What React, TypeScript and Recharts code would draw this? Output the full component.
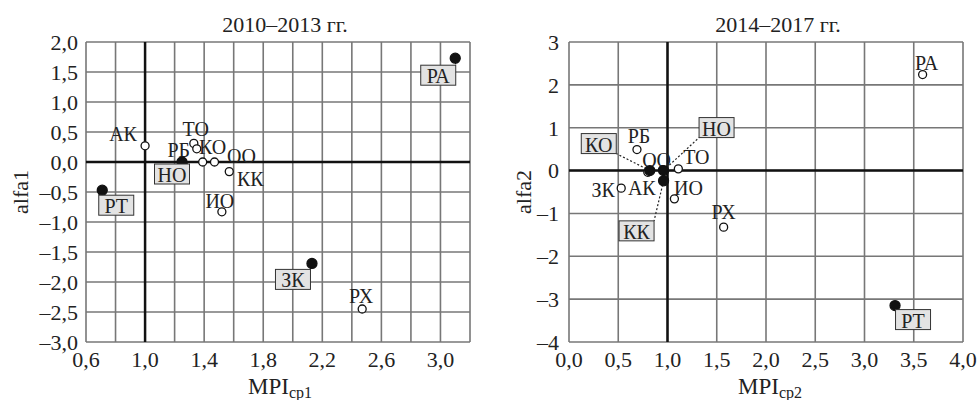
import React from "react";
import { ScatterChart, Scatter, XAxis, YAxis, CartesianGrid, ReferenceLine, Customized } from "recharts";

const SERIF = '"Liberation Serif", "DejaVu Serif", serif';

// 2010–2013
const regions1: string[] = ["АК", "ТО", "РБ", "КО", "ОО", "КК", "ИО", "РХ", "ЗК", "РТ", "РА", "НО"];
const mpi1: number[] = [1.0, 1.33, 1.35, 1.39, 1.47, 1.57, 1.52, 2.47, 2.13, 0.71, 3.1, 1.25];
const alfa1: number[] = [0.27, 0.31, 0.22, 0.0, 0.0, -0.16, -0.83, -2.45, -1.69, -0.47, 1.73, 0.0];
const marked1: boolean[] = [false, false, false, false, false, false, false, false, true, true, true, true];
const xTicks1: number[] = [0.6, 0.8, 1.0, 1.2, 1.4, 1.6, 1.8, 2.0, 2.2, 2.4, 2.6, 2.8, 3.0, 3.2];
const xLabels1: number[] = [0.6, 1.0, 1.4, 1.8, 2.2, 2.6, 3.0];
const yTicks1: number[] = [-3, -2.5, -2, -1.5, -1, -0.5, 0, 0.5, 1, 1.5, 2];

// 2014–2017
const regions2: string[] = ["АК", "ОО", "РБ", "ТО", "ИО", "ЗК", "РХ", "РА", "КО", "НО", "КК", "РТ"];
const mpi2: number[] = [0.8, 0.95, 0.69, 1.11, 1.07, 0.53, 1.57, 3.59, 0.82, 0.96, 0.96, 3.31];
const alfa2: number[] = [-0.04, 0.02, 0.49, 0.04, -0.66, -0.41, -1.32, 2.24, 0.0, 0.0, -0.24, -3.15];
const marked2: boolean[] = [false, false, false, false, false, false, false, false, true, true, true, true];
const xTicks2: number[] = [0, 0.5, 1, 1.5, 2, 2.5, 3, 3.5, 4];
const yTicks2: number[] = [-4, -3, -2, -1, 0, 1, 2, 3];

// label offsets from the point, px
const labelPos1: Record<string, [number, number]> = {
  "АК": [-22, -13], "ТО": [2, -15], "РБ": [-18, 0], "КО": [10, -16], "ОО": [27, -7], "КК": [21, 6],
  "ИО": [-2, -12], "РХ": [-1, -14], "ЗК": [-19, 16], "РТ": [14, 15], "РА": [-17, 17], "НО": [-10, 12],
};
const labelPos2: Record<string, [number, number]> = {
  "АК": [-6, 15], "ОО": [-6, -11], "РБ": [2, -15], "ТО": [18, -13], "ИО": [14, -12], "ЗК": [-18, 1],
  "РХ": [0, -16], "РА": [4, -13], "КО": [-51, -27], "НО": [53, -43], "КК": [-27, 50], "РТ": [18, 14],
};

const points1 = regions1.map((name, i) => ({ name, x: mpi1[i], y: alfa1[i], marked: marked1[i] }));
const points2 = regions2.map((name, i) => ({ name, x: mpi2[i], y: alfa2[i], marked: marked2[i] }));

const fmt1 = (v: number) => v.toFixed(1).replace(".", ",").replace("-", "–");
const fmtInt = (v: number) => String(v).replace("-", "–");

const BOX_W = 35;
const BOX_H = 20;

const Mark = (props: any) => {
  const { cx, cy, payload, pos } = props;
  if (cx == null || cy == null) return null;
  const off = pos[payload.name] || [0, -12];
  const lx = cx + off[0];
  const ly = cy + off[1];
  let leader = null;
  if (payload.marked) {
    const ex = lx + (cx > lx ? BOX_W / 2 : -BOX_W / 2);
    const ey = ly + (cy > ly ? BOX_H / 2 : -BOX_H / 2);
    if (Math.hypot(ex - cx, ey - cy) > 6) {
      leader = <line x1={cx} y1={cy} x2={ex} y2={ey} stroke="#222" strokeWidth={1.2} strokeDasharray="2 2" />;
    }
  }
  return (
    <g>
      {leader}
      <circle cx={cx} cy={cy} r={payload.marked ? 5 : 4} fill={payload.marked ? "#111" : "#fff"} stroke="#111" strokeWidth={1.3} />
      {payload.marked && (
        <rect x={lx - BOX_W / 2} y={ly - BOX_H / 2} width={BOX_W} height={BOX_H} fill="#e3e3e3" stroke="#333" strokeWidth={1} />
      )}
      <text x={lx} y={ly + 1} textAnchor="middle" dominantBaseline="central" fontSize={20} fontFamily={SERIF} fill="#222">
        {payload.name}
      </text>
    </g>
  );
};

const Titles = ({ title, yName, sub, tx, yx, mx }: { title: string; yName: string; sub: string; tx: number; yx: number; mx: number }) => (
  <g fontFamily={SERIF} fill="#222">
    <text x={tx} y={24} textAnchor="middle" dominantBaseline="central" fontSize={22}>{title}</text>
    <text x={yx} y={192} textAnchor="middle" dominantBaseline="central" fontSize={22} transform={`rotate(-90 ${yx} 192)`}>{yName}</text>
    <text x={mx} y={394} textAnchor="middle" fontSize={23}>
      MPI<tspan fontSize={16} dy={4}>{sub}</tspan>
    </text>
  </g>
);

const tickStyle = { fontSize: 22, fontFamily: SERIF, fill: "#222" };

export default function App() {
  return (
    <div style={{ position: "absolute", left: 0, top: 0, width: 979, height: 400, background: "#fff" }}>
      <div style={{ position: "absolute", left: 0, top: 0 }}>
        <ScatterChart width={480} height={400} margin={{ top: 42, right: 10, bottom: 0, left: 0 }}>
          <CartesianGrid stroke="#777" strokeWidth={1.6} />
          <XAxis
            type="number" dataKey="x" domain={[0.6, 3.2]} ticks={xTicks1} interval={0}
            tickFormatter={(v: number) => (xLabels1.some((t) => Math.abs(t - v) < 1e-6) ? fmt1(v) : "")}
            axisLine={false} tickLine={false} tickSize={0} tickMargin={9} tick={tickStyle} height={58}
          />
          <YAxis
            type="number" dataKey="y" domain={[-3, 2]} ticks={yTicks1} interval={0} tickFormatter={fmt1}
            axisLine={false} tickLine={false} tickSize={0} tickMargin={8} tick={tickStyle} width={86}
          />
          <ReferenceLine x={1} stroke="#111" strokeWidth={2.5} />
          <ReferenceLine y={0} stroke="#111" strokeWidth={2.5} />
          <Scatter data={points1} isAnimationActive={false} shape={(p: any) => <Mark {...p} pos={labelPos1} />} />
          <Customized component={() => <Titles title="2010–2013 гг." yName="alfa1" sub="ср1" tx={285} yx={20} mx={280} />} />
        </ScatterChart>
      </div>
      <div style={{ position: "absolute", left: 490, top: 0 }}>
        <ScatterChart width={489} height={400} margin={{ top: 42, right: 16, bottom: 0, left: 0 }}>
          <CartesianGrid stroke="#777" strokeWidth={1.6} />
          <XAxis
            type="number" dataKey="x" domain={[0, 4]} ticks={xTicks2} interval={0} tickFormatter={fmt1}
            axisLine={false} tickLine={false} tickSize={0} tickMargin={9} tick={tickStyle} height={58}
          />
          <YAxis
            type="number" dataKey="y" domain={[-4, 3]} ticks={yTicks2} interval={0} tickFormatter={fmtInt}
            axisLine={false} tickLine={false} tickSize={0} tickMargin={10} tick={tickStyle} width={79}
          />
          <ReferenceLine x={1} stroke="#111" strokeWidth={2.5} />
          <ReferenceLine y={0} stroke="#111" strokeWidth={2.5} />
          <Scatter data={points2} isAnimationActive={false} shape={(p: any) => <Mark {...p} pos={labelPos2} />} />
          <Customized component={() => <Titles title="2014–2017 гг." yName="alfa2" sub="ср2" tx={288} yx={33} mx={280} />} />
        </ScatterChart>
      </div>
    </div>
  );
}
